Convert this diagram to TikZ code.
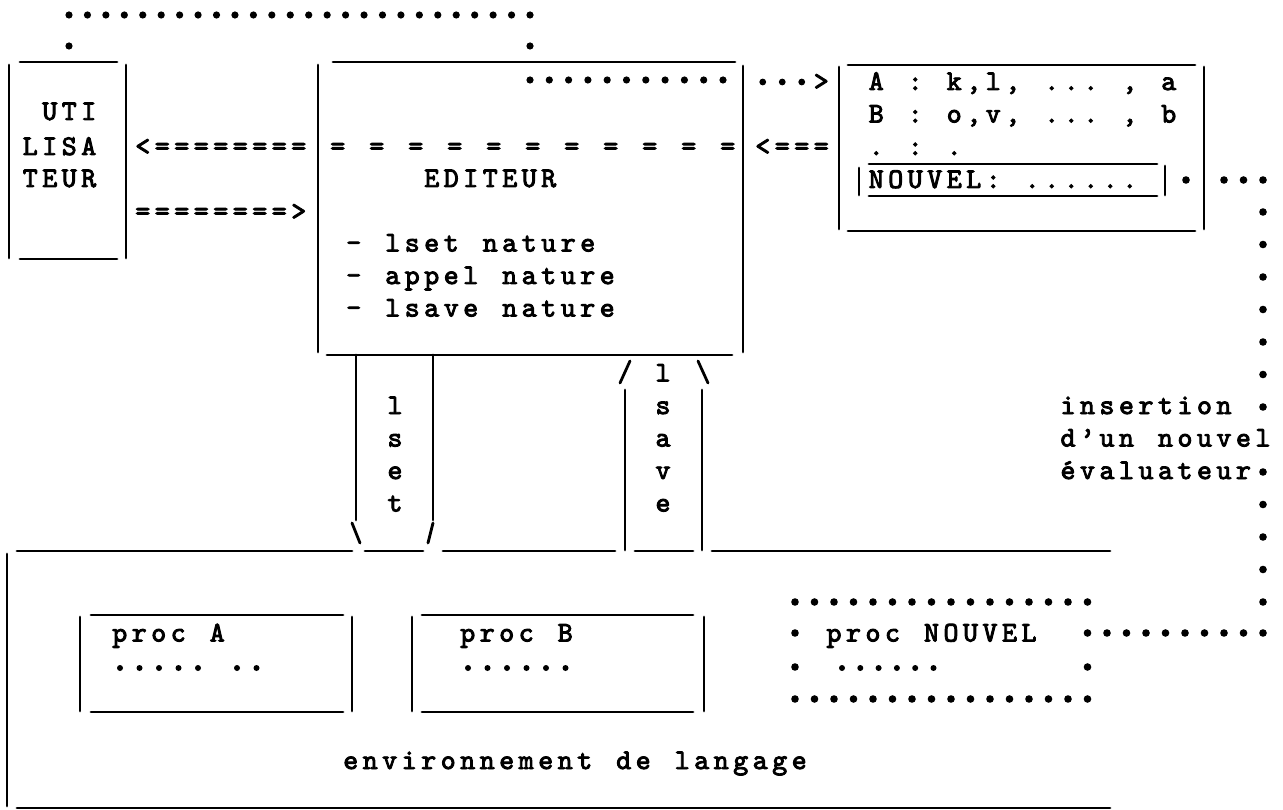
\documentclass[tikz,border=0pt]{standalone}
\usepackage{fontspec}
\newfontfamily\twfont{lmmono10-regular.otf}[FakeBold=3.2]
\newlength\twpitch
\setlength\twpitch{19.5pt}
\ExplSyntaxOn
\NewDocumentCommand\tw{m}{\str_map_inline:nn {#1}{\makebox[\twpitch][c]{##1}}}
\ExplSyntaxOff
\begin{document}
\begin{tikzpicture}[x=1pt,y=-1pt,
  rule/.style={line width=2.8pt,line cap=round},
  tw/.style={anchor=base west,inner sep=0pt,outer sep=0pt,font=\twfont\fontsize{28.5}{28.5}\selectfont},
  twc/.style={tw,anchor=base},
  bigdot/.style={fill=black,draw=none}]
\fill[white] (0,0) rectangle (1283,810);
\useasboundingbox (0,0) rectangle (1283,810);

% ---- top dotted link UTILISATEUR -> EDITEUR
\foreach \i in {0,...,25} \fill[bigdot] (69+18.44*\i,15) circle[radius=3.6];
\fill[bigdot] (69,46) circle[radius=3.6];
\fill[bigdot] (530,46) circle[radius=3.6];

% ---- UTILISATEUR
\draw[rule] (9,65)--(9,258) (20,62)--(117,62) (20,259)--(117,259) (126,65)--(126,258);
\node[tw] (u1) at (20.5,120) {\tw{ UTI}};
\node[tw] (u2) at (20.5,155) {\tw{LISA}};
\node[tw] (u3) at (20.5,187) {\tw{TEUR}};

\node[tw] (a1) at (133,155) {\tw{<========}};
\node[tw] (a2) at (133,220) {\tw{========>}};

% ---- EDITEUR
\draw[rule] (318,65)--(318,352) (333,62)--(735,62) (743,66)--(743,352) (327,355)--(732,355);
\foreach \i in {0,...,10} \fill[bigdot] (530+19.3*\i,80) circle[radius=3.6];
\node[tw] (eq) at (328,155) {\tw{= = = = = = = = = = =}};
\node[tw] (ed) at (422,187) {\tw{EDITEUR}};
\node[tw] (e1) at (344,251.5) {\tw{- lset nature}};
\node[tw] (e2) at (344,284) {\tw{- appel nature}};
\node[tw] (e3) at (344,316.5) {\tw{- lsave nature}};

% ---- links EDITEUR <-> table
\foreach \i in {0,1,2} \fill[bigdot] (762.75+19.5*\i,82) circle[radius=3.4];
\node[tw] (gt) at (811.5,90) {\tw{>}};
\node[tw] (lt) at (753,155) {\tw{<===}};

% ---- table of evaluators
\draw[rule] (839,67)--(839,229) (848,65)--(1195,65) (1204,67)--(1204,229) (848,231)--(1195,231);
\node[tw] (tA) at (866.5,90) {\tw{A : k,l, ... , a}};
\node[tw] (tB) at (866.5,122.5) {\tw{B : o,v, ... , b}};
\node[tw] (tC) at (866.5,155) {\tw{. : .}};
\draw[rule] (859,168)--(859,195) (869,164)--(1157,164) (869,196)--(1157,196) (1165,166)--(1165,195);
\node[tw] (tN) at (866.5,188) {\tw{NOUVEL: ......}};

% ---- dotted link table -> proc NOUVEL
\fill[bigdot] (1186,180) circle[radius=3.8];
\foreach \x in {1224,1243.5,1263} \fill[bigdot] (\x,180) circle[radius=3.8];
\foreach \k in {4,...,10,12,13,14,15,16} \fill[bigdot] (1263,82+32.5*\k) circle[radius=3.8];
\foreach \c in {15,...,24} \fill[bigdot] (795+19.5*\c,633) circle[radius=3.8];
\node[tw] (i1) at (1058.25,414) {\tw{insertion}};
\node[tw] (i2) at (1058.25,446.5) {\tw{d’un nouvel}};
\node[tw] (i3) at (1058.25,479) {\tw{évaluateur}};

% ---- lset channel (down)
\draw[rule] (356,355)--(356,520) (433,355)--(433,520);
\draw[rule] (352,523)--(360,543) (433,523)--(428,543);
\node[twc] (s1) at (395,414) {\tw{l}};
\node[twc] (s2) at (395,446.5) {\tw{s}};
\node[twc] (s3) at (395,479) {\tw{e}};
\node[twc] (s4) at (395,511.5) {\tw{t}};

% ---- lsave channel (up)
\draw[rule] (625,390)--(625,550) (702,390)--(702,550);
\draw[rule] (620,383)--(630,361) (698,361)--(708,383);
\node[twc] (v0) at (663,381.5) {\tw{l}};
\node[twc] (v1) at (663,414) {\tw{s}};
\node[twc] (v2) at (663,446.5) {\tw{a}};
\node[twc] (v3) at (663,479) {\tw{v}};
\node[twc] (v4) at (663,511.5) {\tw{e}};

% ---- environnement
\draw[rule] (17,551)--(352,551) (365,551)--(423,551) (443,551)--(615,551)
            (635,551)--(693,551) (712,551)--(1110,551);
\draw[rule] (7,554)--(7,806) (17,808)--(1110,808);
\node[tw] (env) at (341,769) {\tw{environnement de langage}};

% ---- proc A
\draw[rule] (80,617)--(80,711) (91,615)--(343,615) (91,712)--(343,712) (352,617)--(352,711);
\node[tw] (pA) at (110,641.5) {\tw{proc A}};
\foreach \c in {0,1,2,3,4,6,7} \fill[bigdot] (120+19.5*\c,668) circle[radius=3];

% ---- proc B
\draw[rule] (412,617)--(412,711) (422,615)--(693,615) (422,712)--(693,712) (704,617)--(704,711);
\node[tw] (pB) at (458,641.5) {\tw{proc B}};
\foreach \c in {0,...,5} \fill[bigdot] (468+19.5*\c,668) circle[radius=3];

% ---- proc NOUVEL (dotted box)
\foreach \c in {0,...,15} \fill[bigdot] (795+19.5*\c,602) circle[radius=3.8];
\foreach \c in {0,...,15} \fill[bigdot] (795+19.5*\c,699) circle[radius=3.8];
\fill[bigdot] (795,633) circle[radius=3.8];
\fill[bigdot] (795,667) circle[radius=3.8];
\fill[bigdot] (1087.5,667) circle[radius=3.8];
\node[tw] (pN) at (824.25,641.5) {\tw{proc NOUVEL}};
\foreach \c in {0,...,5} \fill[bigdot] (842+18.3*\c,668) circle[radius=3];
\end{tikzpicture}
\end{document}
